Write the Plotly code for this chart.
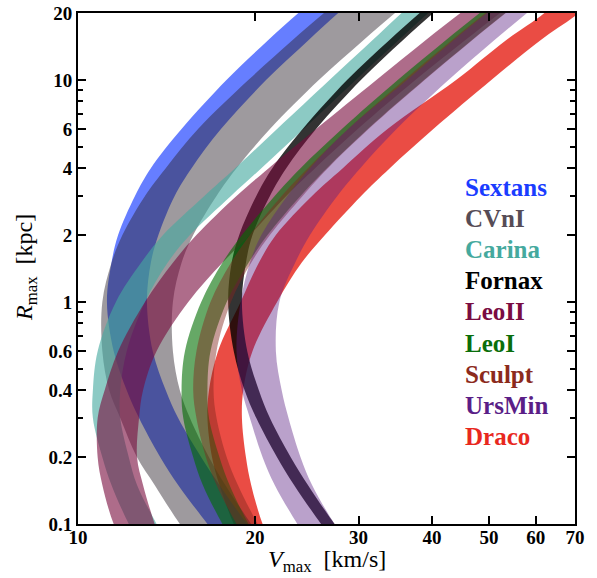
import plotly.graph_objects as go

# R_max grid [kpc] shared by all bands (first/last rows lie just outside the axes)
R = [0.08, 0.1, 0.15, 0.2, 0.3, 0.4, 0.6, 1, 1.5, 2, 3, 4, 6, 10, 15, 20, 25]

# V_max [km/s] of the lower / upper edge of each galaxy band, read at the R grid
draco_lo   = [19.2, 18.4, 17.4, 16.9, 16.6, 16.7, 17.3, 18.9, 20.3, 21.7, 25.0, 28.2, 33.6, 44.0, 53.3, 62.1, 68.0]
draco_hi   = [21.4, 20.6, 19.7, 19.3, 19.0, 19.1, 19.8, 21.8, 24.0, 26.3, 30.3, 33.9, 40.2, 50.5, 61.0, 71.1, 77.9]
sextans_lo = [17.7, 16.6, 14.8, 13.8, 12.7, 12.1, 11.5, 11.2, 11.4, 11.7, 12.5, 13.3, 15.0, 17.9, 21.0, 23.7, 26.2]
sextans_hi = [20.8, 19.4, 17.4, 16.2, 14.8, 14.1, 13.4, 13.1, 13.3, 13.7, 14.6, 15.6, 17.5, 20.9, 24.6, 27.7, 30.6]
cvni_lo    = [15.9, 14.9, 13.5, 12.6, 11.8, 11.3, 11.0, 11.0, 11.4, 11.9, 13.0, 14.1, 16.0, 19.5, 23.1, 26.2, 29.0]
cvni_hi    = [20.9, 19.7, 17.8, 16.7, 15.5, 14.9, 14.5, 14.5, 15.0, 15.7, 17.2, 18.6, 21.2, 25.7, 30.5, 34.6, 38.3]
carina_lo  = [12.8, 12.2, 11.4, 11.0, 10.6, 10.6, 10.8, 11.6, 12.8, 13.95, 16.4, 18.5, 21.8, 26.8, 31.6, 35.5, 38.8]
carina_hi  = [14.2, 13.6, 12.6, 12.2, 11.8, 11.8, 12.1, 13.0, 14.2, 15.5, 18.2, 20.5, 24.2, 29.7, 35.0, 39.4, 43.1]
fornax_lo  = [27.6, 25.9, 23.3, 21.8, 20.1, 19.2, 18.4, 18.0, 18.25, 18.8, 20.1, 21.4, 24.1, 28.7, 33.75, 38.1, 42.0]
fornax_hi  = [29.1, 27.3, 24.6, 23.0, 21.2, 20.3, 19.4, 19.0, 19.3, 19.8, 21.2, 22.6, 25.4, 30.3, 35.6, 40.2, 44.4]
leoii_lo   = [12.0, 11.5, 11.0, 10.8, 10.8, 11.1, 11.7, 13.0, 14.5, 15.9, 18.6, 21.1, 25.4, 32.2, 38.9, 44.7, 49.8]
leoii_hi   = [13.9, 13.5, 12.9, 12.6, 12.7, 12.9, 13.6, 15.4, 17.6, 19.6, 22.6, 25.3, 29.9, 37.5, 45.4, 52.2, 58.1]
leoi_lo    = [18.5, 17.6, 16.3, 15.7, 15.1, 15.0, 15.2, 16.2, 17.6, 19.0, 21.6, 23.9, 28.1, 35.0, 42.1, 48.2, 53.5]
leoi_hi    = [20.5, 19.5, 18.1, 17.4, 16.7, 16.6, 16.8, 17.9, 19.5, 21.0, 23.9, 26.5, 31.1, 38.8, 46.6, 53.3, 59.3]
sculpt_lo  = [19.6, 18.6, 17.2, 16.5, 15.9, 15.7, 15.9, 16.8, 18.2, 19.6, 22.2, 24.6, 28.8, 35.9, 43.1, 49.3, 54.8]
sculpt_hi  = [21.2, 20.2, 18.7, 17.9, 17.2, 17.0, 17.2, 18.2, 19.7, 21.2, 24.1, 26.6, 31.2, 38.9, 46.7, 53.4, 59.3]
ursmin_lo  = [24.9, 23.6, 21.6, 20.6, 19.6, 19.0, 18.6, 18.9, 19.6, 20.5, 22.7, 24.8, 28.8, 36.3, 43.4, 49.6, 55.2]
ursmin_hi  = [28.9, 27.3, 25.0, 23.9, 22.8, 22.2, 21.7, 22.0, 23.4, 24.8, 27.6, 30.2, 34.8, 42.7, 50.9, 58.0, 64.3]

# legend labels (top to bottom) and their text colours
legend_names  = ["Sextans", "CVnI", "Carina", "Fornax", "LeoII", "LeoI", "Sculpt", "UrsMin", "Draco"]
legend_colors = ["#1a3cff", "#564c56", "#45a99e", "#000000", "#7a0c42", "#0a6e0a", "#8c2a1c", "#5a1e87", "#e8281e"]

# axis ticks
x_ticks = [10, 20, 30, 40, 50, 60, 70]
y_ticks = [0.1, 0.2, 0.4, 0.6, 1, 2, 4, 6, 10, 20]
y_tick_text = ["0.1", "0.2", "0.4", "0.6", "1", "2", "4", "6", "10", "20"]
y_minor = [0.3, 0.5, 0.7, 0.8, 0.9, 3, 5, 7, 8, 9]

# drawing order (later on top) and fill colours
bands = [
    ("Draco",   draco_lo,   draco_hi,   "rgba(230,45,35,0.85)"),
    ("Sextans", sextans_lo, sextans_hi, "rgba(0,40,255,0.6)"),
    ("CVnI",    cvni_lo,    cvni_hi,    "rgba(40,30,40,0.45)"),
    ("Carina",  carina_lo,  carina_hi,  "rgba(70,170,160,0.62)"),
    ("Fornax",  fornax_lo,  fornax_hi,  "rgba(0,0,0,0.8)"),
    ("LeoII",   leoii_lo,   leoii_hi,   "rgba(120,10,60,0.6)"),
    ("LeoI",    leoi_lo,    leoi_hi,    "rgba(0,110,0,0.6)"),
    ("Sculpt",  sculpt_lo,  sculpt_hi,  "rgba(130,40,30,0.46)"),
    ("UrsMin",  ursmin_lo,  ursmin_hi,  "rgba(90,30,130,0.42)"),
]

SERIF = "Liberation Serif"

fig = go.Figure()
for name, lo, hi, col in bands:
    fig.add_trace(go.Scatter(
        x=lo + hi[::-1], y=R + R[::-1],
        mode="lines", fill="toself", fillcolor=col,
        line=dict(width=0, shape="spline", smoothing=1.0),
        name=name, hoverinfo="skip", showlegend=False))

W, H = 597, 578
L, Rm, T, B = 78, 22, 13, 54
pw, ph = W - L - Rm, H - T - B

def px(xp):
    return (xp - L) / pw

def py(yp):
    return (H - B - yp) / ph

annotations = []
for i, (nm, c) in enumerate(zip(legend_names, legend_colors)):
    annotations.append(dict(
        x=px(463), y=py(187 + 31.2 * i), xref="paper", yref="paper",
        xanchor="left", yanchor="middle", showarrow=False,
        text="<b>%s</b>" % nm, font=dict(family=SERIF, size=25, color=c)))

annotations.append(dict(
    x=px(327), y=py(561), xref="paper", yref="paper", xanchor="center", yanchor="middle",
    showarrow=False, text="<i>V</i><sub>max</sub>&nbsp;&nbsp;[km/s]",
    font=dict(family=SERIF, size=24, color="black")))
annotations.append(dict(
    x=px(26), y=py(268), xref="paper", yref="paper", xanchor="center", yanchor="middle",
    showarrow=False, textangle=-90, text="<i>R</i><sub>max</sub>&nbsp;&nbsp;[kpc]",
    font=dict(family=SERIF, size=24, color="black")))

fig.update_layout(
    width=W, height=H, margin=dict(l=L, r=Rm, t=T, b=B, autoexpand=False),
    paper_bgcolor="white", plot_bgcolor="white",
    annotations=annotations, showlegend=False,
    xaxis=dict(type="log", range=[1, 1.845098], tickvals=x_ticks,
               ticktext=["<b>%d</b>" % v for v in x_ticks],
               tickfont=dict(family=SERIF, size=19, color="black"),
               ticks="inside", ticklen=8, tickwidth=2, tickcolor="black",
               ticklabelstandoff=-5,
               showline=True, linewidth=2, linecolor="black", mirror="ticks",
               showgrid=False, zeroline=False, automargin=False),
    yaxis=dict(type="log", range=[-1, 1.30103], tickvals=y_ticks,
               ticktext=["<b>%s</b>" % t for t in y_tick_text],
               tickfont=dict(family=SERIF, size=19, color="black"),
               ticks="inside", ticklen=8, tickwidth=2, tickcolor="black",
               showline=True, linewidth=2, linecolor="black", mirror="ticks",
               showgrid=False, zeroline=False, automargin=False,
               minor=dict(tickvals=y_minor, ticks="inside", ticklen=5, tickwidth=2,
                          tickcolor="black", showgrid=False)),
)

fig.write_html("out.html", config={"displayModeBar": False},
               post_script="document.body.style.margin='0px';")
